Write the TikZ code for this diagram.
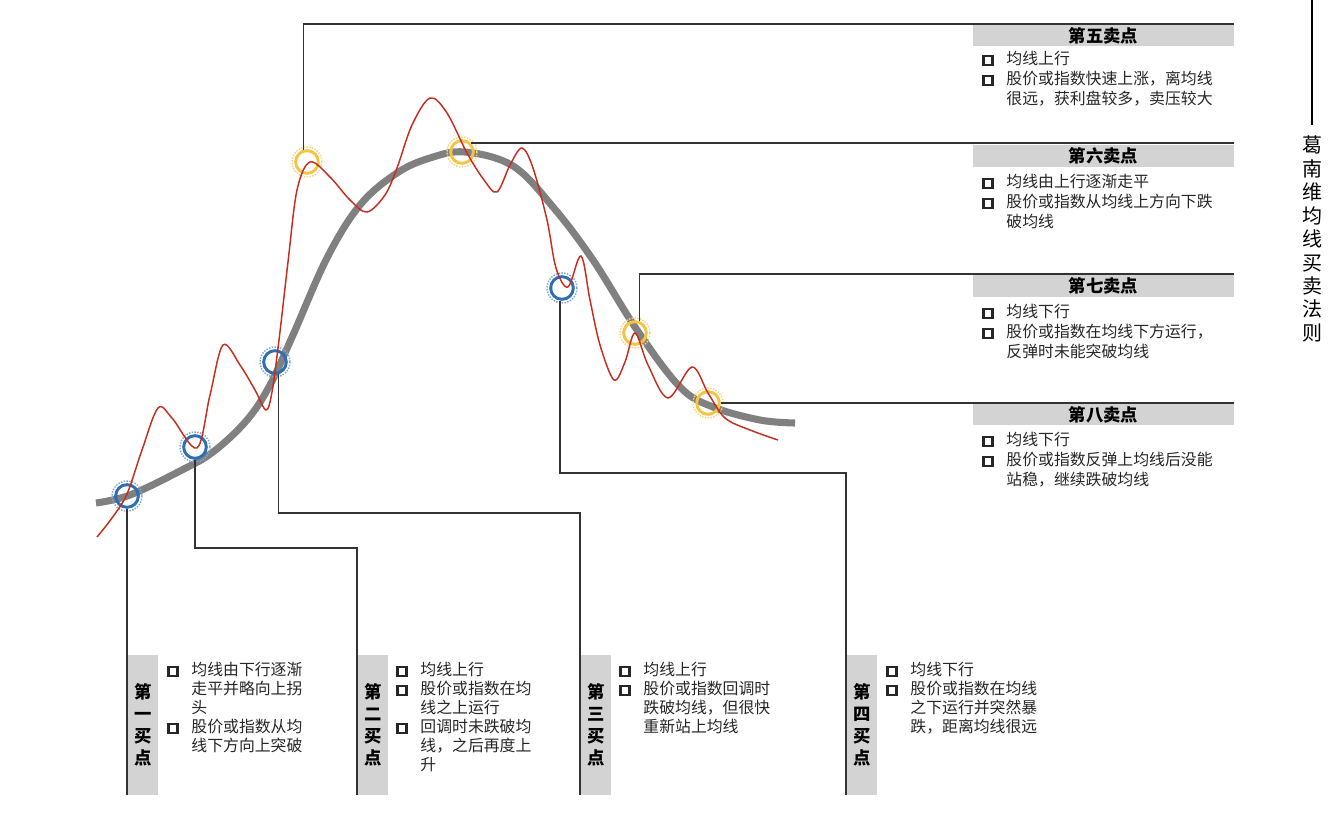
\documentclass[tikz,border=0pt]{standalone}
\usepackage{fontspec}
\setmainfont{Noto Sans CJK SC}
\usepackage{array}
\definecolor{barg}{HTML}{D3D3D3}
\definecolor{mag}{HTML}{808080}
\definecolor{redl}{HTML}{C62D1F}
\definecolor{blu}{HTML}{2F6DB5}
\definecolor{blul}{HTML}{7FA8DA}
\definecolor{yel}{HTML}{F5C444}
\definecolor{yell}{HTML}{F6D57E}
\definecolor{conc}{HTML}{333333}
\newcommand\bxsq{\raisebox{0.2pt}{\setlength\fboxsep{0pt}\setlength\fboxrule{1.7pt}\fbox{\rule{0pt}{5.2pt}\rule{5.2pt}{0pt}}}}
\newcolumntype{B}{@{}l@{\hspace{9.5pt}}l@{}}
\begin{document}
\begin{tikzpicture}[x=0.75pt,y=-0.75pt,
  conn/.style={draw=conc,line width=1.1pt},
  bar/.style={fill=barg},
  bcirc/.style={circle,draw=blu,line width=2.2pt,minimum size=17pt,inner sep=0pt},
  ycirc/.style={circle,draw=yel,line width=2.2pt,minimum size=17pt,inner sep=0pt},
  bdot/.style={draw=blul,line width=1.1pt,densely dotted},
  ydot/.style={draw=yell,line width=1.1pt,densely dotted},
  head/.style={font=\fontsize{13}{15}\selectfont\bfseries,inner sep=0pt},
  sellbody/.style={anchor=base west,inner sep=0pt,font=\fontsize{11.9}{15}\selectfont,text=black!85},
  buybody/.style={anchor=base west,inner sep=0pt,font=\fontsize{11.9}{14.3}\selectfont,text=black!85},
  vlab/.style={font=\fontsize{13}{16.5}\selectfont\bfseries,align=center,inner sep=0pt}]
\useasboundingbox (0,0) rectangle (1339,835);

% moving average curve
\draw[mag,line width=5.3pt] plot[smooth,tension=0.6] coordinates {(96,503) (130,495) (180,471) (213,452) (247,420) (270,385) (293,335) (327,258) (360,205) (397,173) (430,158) (465,152) (513,166) (553,207) (593,260) (637,330) (680,387) (713,407) (760,420) (795,423)};

% circles
\node[bcirc] (b1) at (127,496) {};
\node[bcirc] (b2) at (195,447) {};
\node[bcirc] (b3) at (275,362) {};
\node[bcirc] (b4) at (562,288) {};
\node[ycirc] (s5) at (307,162) {};
\node[ycirc] (s6) at (462,152) {};
\node[ycirc] (s7) at (635,333) {};
\node[ycirc] (s8) at (708,403) {};
\foreach \n in {b1,b2,b3,b4} \draw[bdot] (\n) circle[radius=15];
\foreach \n in {s5,s6,s7,s8} \draw[ydot] (\n) circle[radius=15];

% price curve
\draw[redl,line width=1.1pt] plot[smooth,tension=0.55] coordinates {(97,537) (112,518) (127,494) (142,450) (158,408) (172,418) (197,448) (210,395) (223,345) (240,365) (255,390) (266,410) (272,392) (279,340) (288,262) (297,190) (310,162) (330,177) (350,200) (367,212) (385,195) (397,168) (412,125) (430,98) (447,113) (467,153) (484,180) (497,192) (510,165) (522,148) (533,168) (547,220) (556,268) (568,287) (581,256) (590,300) (600,345) (614,380) (625,362) (635,333) (648,365) (668,398) (692,367) (708,393) (725,418) (750,430) (778,440)};

% named endpoints
\coordinate (s5end) at (1234,24);
\coordinate (s6end) at (1234,144);
\coordinate (s7end) at (1234,274);
\coordinate (s8end) at (1234,403);
\coordinate (b1end) at (127,795);
\coordinate (b2k) at (357,548);
\coordinate (b2end) at (357,795);
\coordinate (b3k) at (580,513);
\coordinate (b3end) at (580,795);
\coordinate (b4k) at (846,473);
\coordinate (b4end) at (846,795);

% sell bars
\fill[bar] (973,25) rectangle (1234,46);
\fill[bar] (973,145) rectangle (1234,167);
\fill[bar] (973,275) rectangle (1234,297);
\fill[bar] (973,404) rectangle (1234,425);
% buy bars
\fill[bar] (128,655) rectangle (158,795);
\fill[bar] (358,655) rectangle (388,795);
\fill[bar] (581,655) rectangle (611,795);
\fill[bar] (847,655) rectangle (877,795);

% connectors
\draw[conn] (s5.105) |- (s5end);
\draw[conn] (s6.north east) -- (s6.north east -| s6end);
\draw[conn] (s7.70) |- (s7end);
\draw[conn] (s8.east) -- (s8.east -| s8end);
\draw[conn] (b1.south) -- (b1end);
\draw[conn] (b2.south) |- (b2k) -- (b2end);
\draw[conn] (b3.-75) |- (b3k) -- (b3end);
\draw[conn] (b4.-100) |- (b4k) -- (b4end);

% sell headers
\node[head] (h5) at (1103.5,35.5) {第五卖点};
\node[head] (h6) at (1103.5,156) {第六卖点};
\node[head] (h7) at (1103.5,286) {第七卖点};
\node[head] (h8) at (1103.5,414.5) {第八卖点};

% sell bodies
\node[sellbody] (t5) at (982,64) {\begin{tabular}[t]{B}\bxsq & 均线上行\\ \bxsq & 股价或指数快速上涨，离均线\\ & 很远，获利盘较多，卖压较大\end{tabular}};
\node[sellbody] (t6) at (982,187) {\begin{tabular}[t]{B}\bxsq & 均线由上行逐渐走平\\ \bxsq & 股价或指数从均线上方向下跌\\ & 破均线\end{tabular}};
\node[sellbody] (t7) at (982,317) {\begin{tabular}[t]{B}\bxsq & 均线下行\\ \bxsq & 股价或指数在均线下方运行，\\ & 反弹时未能突破均线\end{tabular}};
\node[sellbody] (t8) at (982,445) {\begin{tabular}[t]{B}\bxsq & 均线下行\\ \bxsq & 股价或指数反弹上均线后没能\\ & 站稳，继续跌破均线\end{tabular}};

% buy labels
\node[vlab] (v1) at (143,725) {第\\一\\买\\点};
\node[vlab] (v2) at (373,725) {第\\二\\买\\点};
\node[vlab] (v3) at (596,725) {第\\三\\买\\点};
\node[vlab] (v4) at (862,725) {第\\四\\买\\点};

% buy bodies
\node[buybody] (u1) at (167,675) {\begin{tabular}[t]{B}\bxsq & 均线由下行逐渐\\ & 走平并略向上拐\\ & 头\\ \bxsq & 股价或指数从均\\ & 线下方向上突破\end{tabular}};
\node[buybody] (u2) at (396,675) {\begin{tabular}[t]{B}\bxsq & 均线上行\\ \bxsq & 股价或指数在均\\ & 线之上运行\\ \bxsq & 回调时未跌破均\\ & 线，之后再度上\\ & 升\end{tabular}};
\node[buybody] (u3) at (619,675) {\begin{tabular}[t]{B}\bxsq & 均线上行\\ \bxsq & 股价或指数回调时\\ & 跌破均线，但很快\\ & 重新站上均线\end{tabular}};
\node[buybody] (u4) at (886,675) {\begin{tabular}[t]{B}\bxsq & 均线下行\\ \bxsq & 股价或指数在均线\\ & 之下运行并突然暴\\ & 跌，距离均线很远\end{tabular}};

% title
\coordinate (t0) at (1312,0);
\node[font=\fontsize{15}{17.6}\selectfont,align=center,inner sep=0pt] (title) at (1312,239) {葛\\南\\维\\均\\线\\买\\卖\\法\\则};
\draw[line width=1.3pt] (t0) -- ([yshift=8pt]title.north);
\end{tikzpicture}
\end{document}
